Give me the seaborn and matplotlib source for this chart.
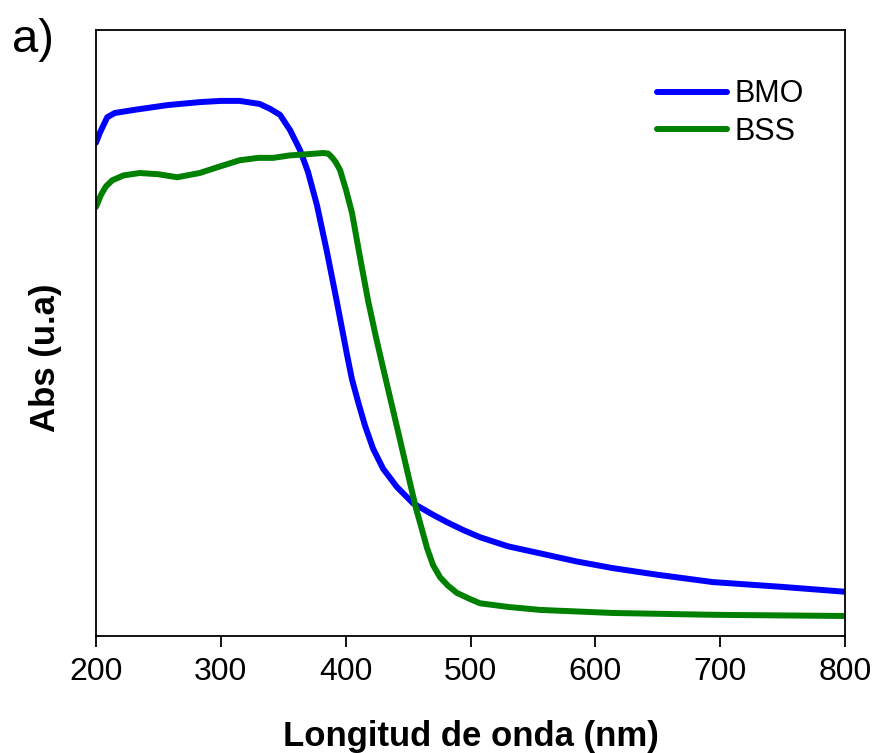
import numpy as np
import pandas as pd
import matplotlib
matplotlib.use("Agg")
import matplotlib.pyplot as plt
import seaborn as sns

# Data (wavelength in nm, absorbance in arbitrary units)
bmo_nm = [200, 203, 209, 215, 230, 257, 283, 300, 315, 331, 339.4, 347.4, 355.4,
          363.4, 369.8, 377, 385, 393, 401, 405, 410, 415.5, 422, 430, 441, 454, 470,
          481, 494, 507.6, 530, 561, 585, 614, 650, 694, 750, 800]
bmo_abs = [0.814, 0.830, 0.856, 0.863, 0.868, 0.876, 0.881, 0.883, 0.883, 0.878, 0.870,
           0.860, 0.835, 0.802, 0.766, 0.711, 0.634, 0.551, 0.465, 0.424, 0.386, 0.347,
           0.309, 0.276, 0.246, 0.219, 0.200, 0.188, 0.175, 0.163, 0.148, 0.134, 0.123,
           0.112, 0.101, 0.089, 0.081, 0.073]

bss_nm = [200, 204, 208, 213, 222, 235, 250, 265, 283, 298, 315, 330, 342, 355, 369,
          382, 386, 389, 392, 395.5, 400.3, 405.1, 411.5, 417.9, 424.3, 430.7, 437.1,
          443.6, 449.9, 456.3, 461.2, 465.2, 470, 475.6, 482, 489.2, 499.6, 507.6, 530,
          556, 614, 694, 800]
bss_abs = [0.708, 0.728, 0.742, 0.752, 0.760, 0.764, 0.762, 0.757, 0.764, 0.774, 0.785,
           0.789, 0.789, 0.793, 0.795, 0.797, 0.796, 0.790, 0.782, 0.769, 0.736, 0.698,
           0.625, 0.554, 0.493, 0.436, 0.380, 0.323, 0.267, 0.211, 0.175, 0.145, 0.117,
           0.097, 0.083, 0.071, 0.061, 0.054, 0.048, 0.043, 0.038, 0.035, 0.033]

series_names = ["BMO", "BSS"]
series_colors = ["#0000FF", "#008000"]
x_ticks = [200, 300, 400, 500, 600, 700, 800]

df = pd.concat([
    pd.DataFrame({"nm": bmo_nm, "abs": bmo_abs, "muestra": "BMO"}),
    pd.DataFrame({"nm": bss_nm, "abs": bss_abs, "muestra": "BSS"}),
], ignore_index=True)

sns.set_style("ticks")
plt.rcParams["font.family"] = ["Liberation Sans", "DejaVu Sans"]
plt.rcParams["text.color"] = "black"
plt.rcParams["axes.labelcolor"] = "black"
plt.rcParams["xtick.color"] = "black"
plt.rcParams["ytick.color"] = "black"

fig = plt.figure(figsize=(8.77, 7.53), dpi=100)
ax = fig.add_axes([96 / 877, 117 / 753, 749 / 877, 606 / 753])

sns.lineplot(data=df, x="nm", y="abs", hue="muestra", hue_order=series_names,
             palette=dict(zip(series_names, series_colors)), linewidth=4.3,
             ax=ax, sort=True, estimator=None)

ax.set_xlim(200, 800)
ax.set_ylim(0, 1)
ax.set_xticks(x_ticks)
ax.set_xticklabels([str(t) for t in x_ticks])
ax.set_yticks([])
ax.tick_params(axis="x", direction="out", length=8, width=1.3, labelsize=23, pad=7,
               colors="black", labelcolor="black")
for s in ax.spines.values():
    s.set_visible(True)
    s.set_color("black")
    s.set_linewidth(1.3)

ax.set_xlabel("Longitud de onda (nm)", fontsize=25, fontweight="bold", labelpad=24,
              color="black")
ax.set_ylabel("Abs (u.a)", fontsize=25, fontweight="bold", color="black")
ax.yaxis.set_label_coords(-0.045, 0.459)

leg = ax.legend(loc="upper right", bbox_to_anchor=(0.982, 0.964), frameon=False,
                fontsize=22, handlelength=2.3, handletextpad=0.25, labelspacing=0.25)
for line in leg.get_lines():
    line.set_linewidth(4.3)
for t in leg.get_texts():
    t.set_color("black")

fig.text(12 / 877, 1 - 40 / 753, "a)", fontsize=34, ha="left", va="center", color="black")

fig.savefig("out.png", dpi=100)
